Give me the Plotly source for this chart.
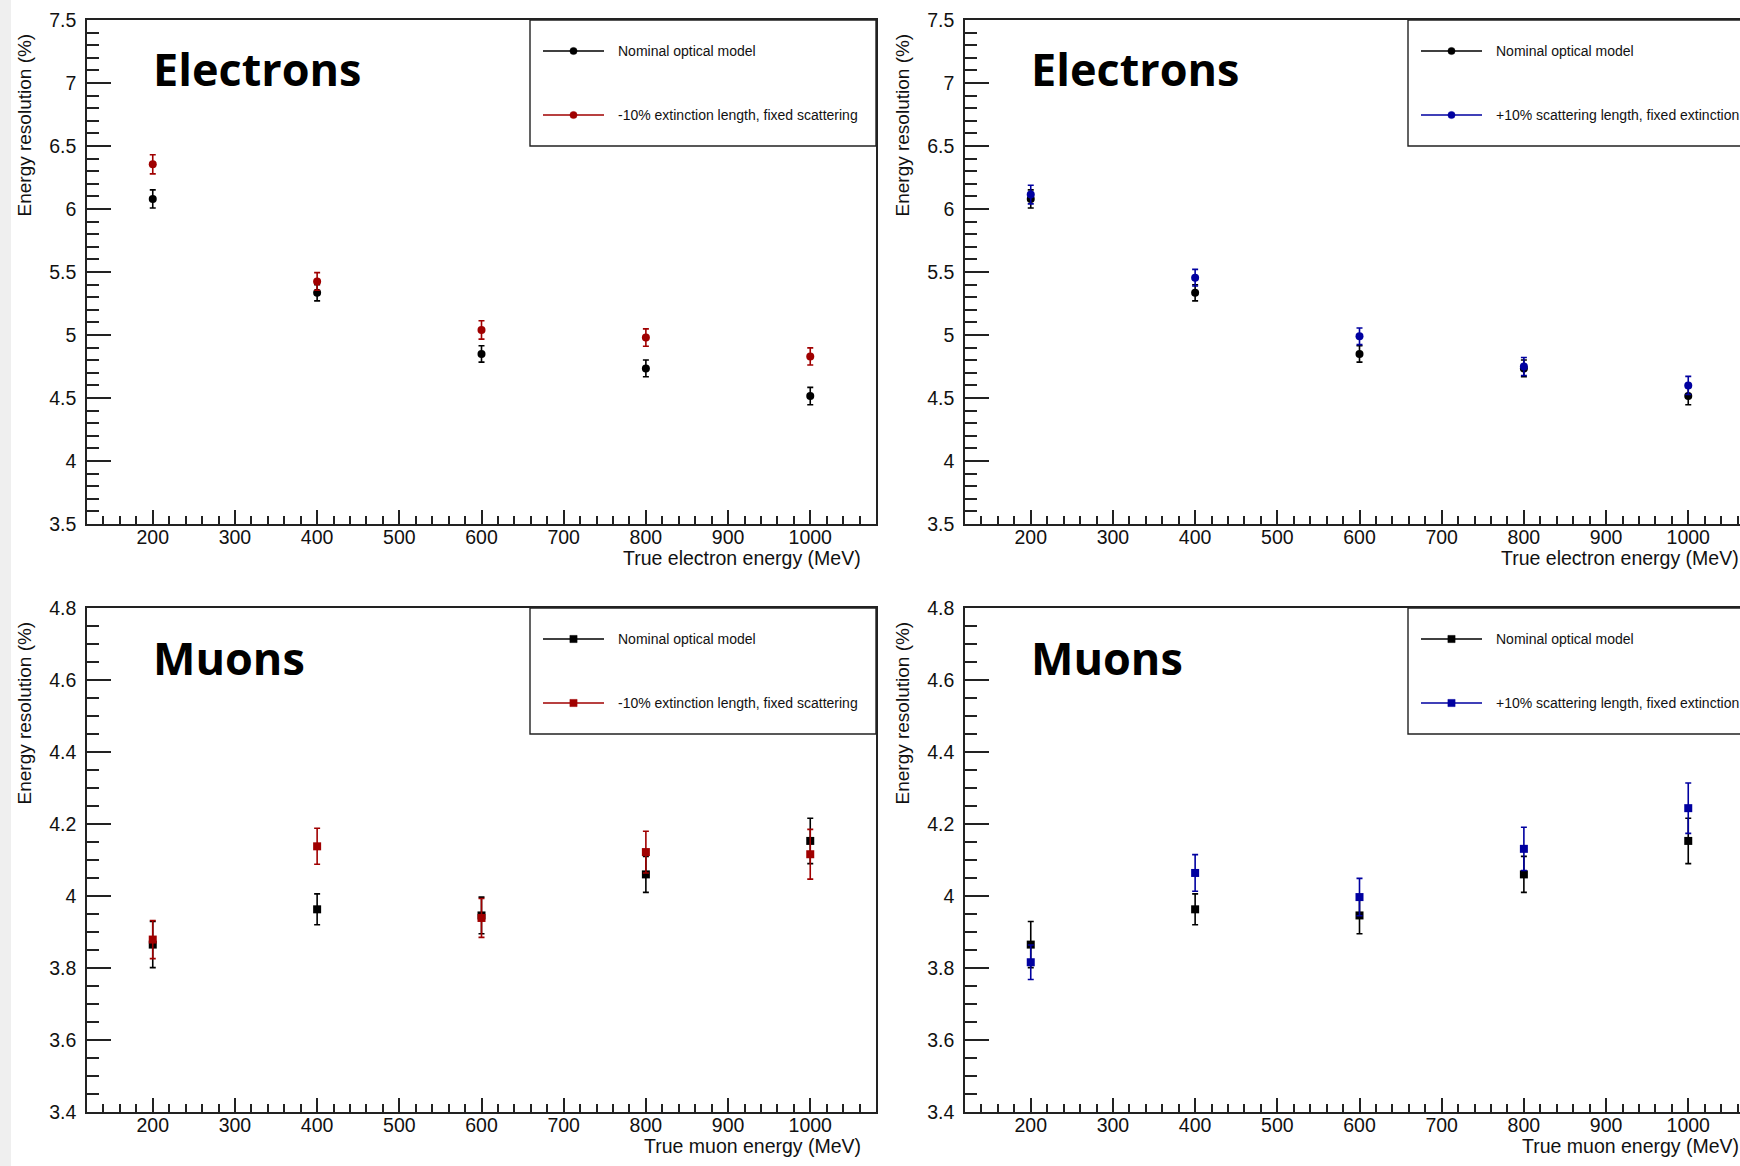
import plotly.graph_objects as go

# ---- data -------------------------------------------------------------
energy_mev = [200, 400, 600, 800, 1000]

# electrons: energy resolution (%) and statistical errors
e_nominal = [6.08, 5.335, 4.85, 4.735, 4.515]
e_nominal_err = [0.072, 0.064, 0.065, 0.066, 0.069]
e_ext_minus10 = [6.355, 5.425, 5.04, 4.98, 4.83]
e_ext_minus10_err = [0.076, 0.070, 0.073, 0.069, 0.068]
e_scat_plus10 = [6.115, 5.455, 4.99, 4.75, 4.60]
e_scat_plus10_err = [0.074, 0.066, 0.066, 0.072, 0.072]

# muons: energy resolution (%) and statistical errors
mu_nominal = [3.865, 3.963, 3.946, 4.06, 4.153]
mu_nominal_err = [0.064, 0.043, 0.051, 0.050, 0.063]
mu_ext_minus10 = [3.879, 4.138, 3.939, 4.122, 4.116]
mu_ext_minus10_err = [0.053, 0.050, 0.054, 0.058, 0.069]
mu_scat_plus10 = [3.816, 4.064, 3.997, 4.131, 4.244]
mu_scat_plus10_err = [0.048, 0.051, 0.052, 0.060, 0.070]

label_nominal = "Nominal optical model"
label_ext = "-10% extinction length, fixed scattering"
label_scat = "+10% scattering length, fixed extinction"

# ---- styling ----------------------------------------------------------
W, H = 1740, 1166
BLACK = "#000000"
RED = "#a00000"
BLUE = "#0000a0"
FRAME = "#222222"
FONT = "Liberation Sans, Arial, sans-serif"
TITLE_FONT = "Open Sans, sans-serif"


def fx(p):
    return p / W


def fy(p):
    return 1 - p / H


fig = go.Figure()

panels = [
    dict(ax="", x=(87, 876), y=(20, 524), yr=[3.5, 7.5], dy=0.5, mdy=0.1,
         title="Electrons", xtitle="True electron energy (MeV)", sym="circle",
         nom=(e_nominal, e_nominal_err), var=(e_ext_minus10, e_ext_minus10_err),
         col=RED, lab=label_ext, cut=False),
    dict(ax="2", x=(965, 1740), y=(20, 524), yr=[3.5, 7.5], dy=0.5, mdy=0.1,
         title="Electrons", xtitle="True electron energy (MeV)", sym="circle",
         nom=(e_nominal, e_nominal_err), var=(e_scat_plus10, e_scat_plus10_err),
         col=BLUE, lab=label_scat, cut=True),
    dict(ax="3", x=(87, 876), y=(608, 1112), yr=[3.4, 4.8], dy=0.2, mdy=0.05,
         title="Muons", xtitle="True muon energy (MeV)", sym="square",
         nom=(mu_nominal, mu_nominal_err), var=(mu_ext_minus10, mu_ext_minus10_err),
         col=RED, lab=label_ext, cut=False),
    dict(ax="4", x=(965, 1740), y=(608, 1112), yr=[3.4, 4.8], dy=0.2, mdy=0.05,
         title="Muons", xtitle="True muon energy (MeV)", sym="square",
         nom=(mu_nominal, mu_nominal_err), var=(mu_scat_plus10, mu_scat_plus10_err),
         col=BLUE, lab=label_scat, cut=True),
]

FULL_W = 789          # frame width of a full panel in px
X_MIN, X_MAX = 120, 1080
PX_PER_UNIT = FULL_W / (X_MAX - X_MIN)

shapes = []
annotations = []

# light strip on the left edge of the page
shapes.append(dict(type="rect", xref="paper", yref="paper", x0=0, x1=fx(11),
                   y0=0, y1=1, fillcolor="#efefef", line=dict(width=0), layer="below"))

for p in panels:
    xa = "x" + p["ax"]
    ya = "y" + p["ax"]
    x0, x1 = p["x"]
    y0, y1 = p["y"]
    x_hi = X_MIN + (x1 - x0) / PX_PER_UNIT

    for vals, errs, color in [(p["nom"][0], p["nom"][1], BLACK),
                              (p["var"][0], p["var"][1], p["col"])]:
        fig.add_trace(go.Scatter(
            x=energy_mev, y=vals, mode="markers", xaxis=xa, yaxis=ya,
            marker=dict(symbol=p["sym"], size=8, color=color),
            error_y=dict(type="data", array=errs, visible=True,
                         color=color, thickness=1.6, width=3),
            showlegend=False, hoverinfo="x+y"))

    axis_common = dict(showgrid=False, zeroline=False, showline=True,
                       automargin=False,
                       linecolor=FRAME, linewidth=1.6, ticks="inside",
                       tickcolor=FRAME, tickwidth=1.5,
                       tickfont=dict(family=FONT, size=19.5, color="#111111"))

    xkey = "xaxis" + p["ax"]
    ykey = "yaxis" + p["ax"]
    fig.update_layout(**{
        xkey: dict(axis_common, domain=[fx(x0), fx(x1)], range=[X_MIN, x_hi],
                   anchor=ya, tick0=0, dtick=100, ticklen=14, mirror=True,
                   ticklabelstandoff=-5,
                   minor=dict(dtick=20, tick0=0, ticklen=8, ticks="inside",
                              tickcolor=FRAME, tickwidth=1.5)),
        ykey: dict(axis_common, domain=[fy(y1), fy(y0)], range=p["yr"],
                   anchor=xa, tick0=0, dtick=p["dy"], ticklen=24,
                   mirror=not p["cut"], ticklabelstandoff=5,
                   minor=dict(dtick=p["mdy"], tick0=0, ticklen=12, ticks="inside",
                              tickcolor=FRAME, tickwidth=1.5)),
    })

    # panel title
    annotations.append(dict(xref="paper", yref="paper", x=fx(x0 + 64), y=fy(y0 + 49),
                            xanchor="left", yanchor="middle", showarrow=False,
                            text="<b>%s</b>" % p["title"],
                            font=dict(family=TITLE_FONT, size=45, color="black",
                                      weight=800)))

    # axis titles, right/top aligned
    annotations.append(dict(xref="paper", yref="paper", x=fx(x0 - 63), y=fy(y0 + 12),
                            xanchor="center", yanchor="top", textangle=-90,
                            showarrow=False, text="Energy resolution (%)",
                            font=dict(family=FONT, size=19, color="#111111")))
    annotations.append(dict(xref="paper", yref="paper", x=fx(x0 + FULL_W - 13),
                            y=fy(y1 + 34), xanchor="right", yanchor="middle",
                            showarrow=False, text=p["xtitle"],
                            font=dict(family=FONT, size=19.5, color="#111111")))

    # legend box
    lx0 = x0 + 443
    lx1 = x0 + FULL_W
    shapes.append(dict(type="rect", xref="paper", yref="paper",
                       x0=fx(lx0), x1=fx(lx1), y0=fy(y0 + 126), y1=fy(y0),
                       line=dict(color=FRAME, width=1.4), fillcolor="white",
                       layer="below"))
    for (row_y, color, text) in [(y0 + 31, BLACK, label_nominal),
                                 (y0 + 95, p["col"], p["lab"])]:
        shapes.append(dict(type="line", xref="paper", yref="paper",
                           x0=fx(lx0 + 13), x1=fx(lx0 + 74), y0=fy(row_y), y1=fy(row_y),
                           line=dict(color=color, width=1.4)))
        mx = lx0 + 43.5
        r = 3.6
        shapes.append(dict(type="circle" if p["sym"] == "circle" else "rect",
                           xref="paper", yref="paper",
                           x0=fx(mx - r), x1=fx(mx + r), y0=fy(row_y + r), y1=fy(row_y - r),
                           fillcolor=color, line=dict(color=color, width=0.5)))
        annotations.append(dict(xref="paper", yref="paper", x=fx(lx0 + 86), y=fy(row_y),
                                xanchor="left", yanchor="middle", showarrow=False,
                                text=text, font=dict(family=FONT, size=14, color="#111111")))

fig.update_layout(
    width=W, height=H, margin=dict(l=0, r=0, t=0, b=0, autoexpand=False),
    paper_bgcolor="white", plot_bgcolor="white",
    showlegend=False, shapes=shapes, annotations=annotations,
)

fig.write_html("out.html")
